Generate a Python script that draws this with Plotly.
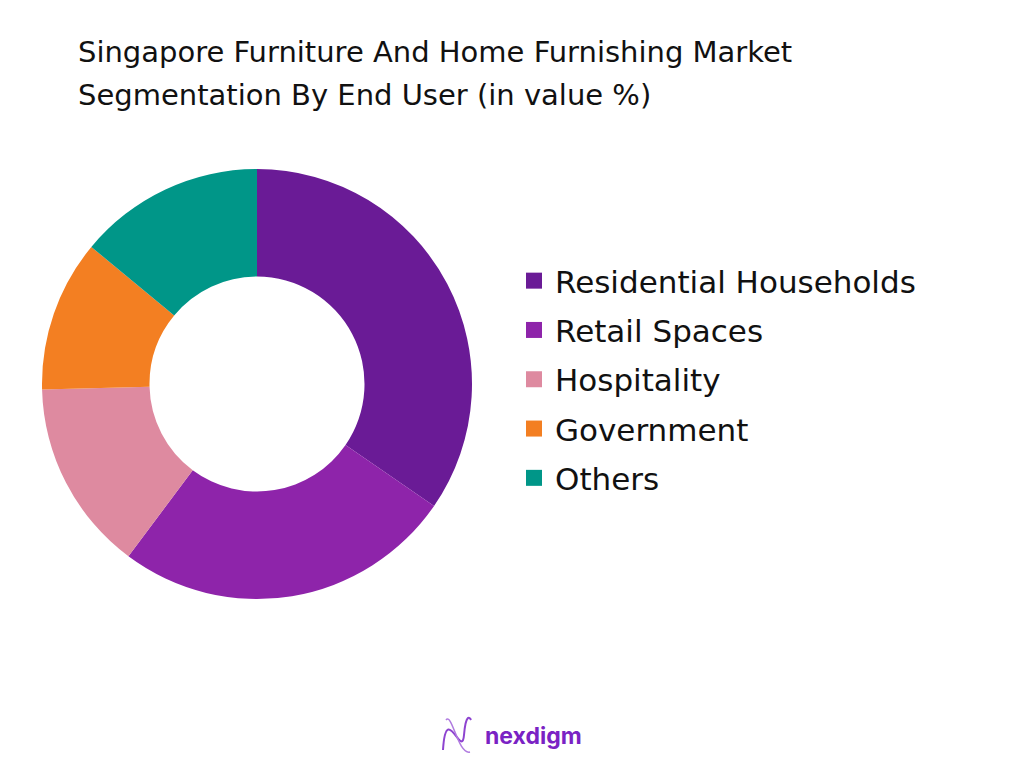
import plotly.graph_objects as go

categories = ["Residential Households", "Retail Spaces", "Hospitality", "Government", "Others"]
values = [34.6, 25.6, 14.4, 11.4, 14.0]
colors = ["#6A1B96", "#8E24AA", "#DE8AA0", "#F37F22", "#009688"]

title_lines = ["Singapore Furniture And Home Furnishing Market",
               "Segmentation By End User (in value %)"]

W, H = 1024, 768
OFF = 8  # page body margin
cx, cy, r = 257 - OFF, 384 - OFF, 215
FONT = "DejaVu Sans, Verdana, sans-serif"

fig = go.Figure(go.Pie(
    labels=categories,
    values=values,
    hole=0.5,
    sort=False,
    direction="clockwise",
    rotation=0,
    marker=dict(colors=colors, line=dict(width=0)),
    textinfo="none",
    hoverinfo="label+percent",
    showlegend=False,
    domain=dict(x=[(cx - r) / W, (cx + r) / W], y=[1 - (cy + r) / H, 1 - (cy - r) / H]),
))

# legend entries (one per category) using square markers
for i, (cat, col) in enumerate(zip(categories, colors)):
    fig.add_trace(go.Scatter(
        x=[None], y=[None], mode="markers", name=cat,
        marker=dict(symbol="square", size=20, color=col),
        legendgroup="g%d" % i, showlegend=True, hoverinfo="skip",
    ))

title_ann = []
for k, (line, yc) in enumerate(zip(title_lines, [52, 95])):
    title_ann.append(dict(text=line, x=(76 - OFF) / W, y=1 - (yc - OFF) / H,
                          xref="paper", yref="paper",
                          xanchor="left", yanchor="middle", align="left", showarrow=False,
                          font=dict(size=29, color="#111111", family=FONT)))

fig.update_layout(
    width=W, height=H,
    margin=dict(l=0, r=0, t=0, b=0),
    paper_bgcolor="white",
    plot_bgcolor="white",
    xaxis=dict(visible=False, domain=[0.95, 1.0]),
    yaxis=dict(visible=False, domain=[0.95, 1.0]),
    font=dict(family=FONT, color="#111111"),
    showlegend=True,
    legend=dict(
        x=(513 - OFF) / W, y=1 - (254 - OFF) / H, xanchor="left", yanchor="top",
        font=dict(size=31, color="#111111", family=FONT),
        tracegroupgap=6, itemwidth=32,
        bgcolor="rgba(0,0,0,0)",
    ),
    annotations=title_ann + [
        dict(text="<b>nexdigm</b>", x=(483 - OFF) / W, y=1 - (736 - OFF) / H, xref="paper", yref="paper",
             xanchor="left", yanchor="middle", showarrow=False,
             font=dict(size=23, color="#7A22C4", family="Inter, Open Sans, sans-serif")),
    ],
    shapes=[
        dict(type="path", xref="paper", yref="paper",
             path="M %f,%f C %f,%f %f,%f %f,%f C %f,%f %f,%f %f,%f" % (
                 (443 - OFF) / W, 1 - (750 - OFF) / H, (446 - OFF) / W, 1 - (700 - OFF) / H,
                 (462 - OFF) / W, 1 - (760 - OFF) / H, (464 - OFF) / W, 1 - (735 - OFF) / H,
                 (466 - OFF) / W, 1 - (712 - OFF) / H, (470 - OFF) / W, 1 - (718 - OFF) / H,
                 (471 - OFF) / W, 1 - (720 - OFF) / H),
             line=dict(color="#8E44D0", width=2)),
        dict(type="path", xref="paper", yref="paper",
             path="M %f,%f C %f,%f %f,%f %f,%f" % (
                 (446 - OFF) / W, 1 - (720 - OFF) / H, (452 - OFF) / W, 1 - (712 - OFF) / H,
                 (458 - OFF) / W, 1 - (755 - OFF) / H, (470 - OFF) / W, 1 - (752 - OFF) / H),
             line=dict(color="#B07BE0", width=1.5)),
    ],
)

fig.write_html("out.html")
